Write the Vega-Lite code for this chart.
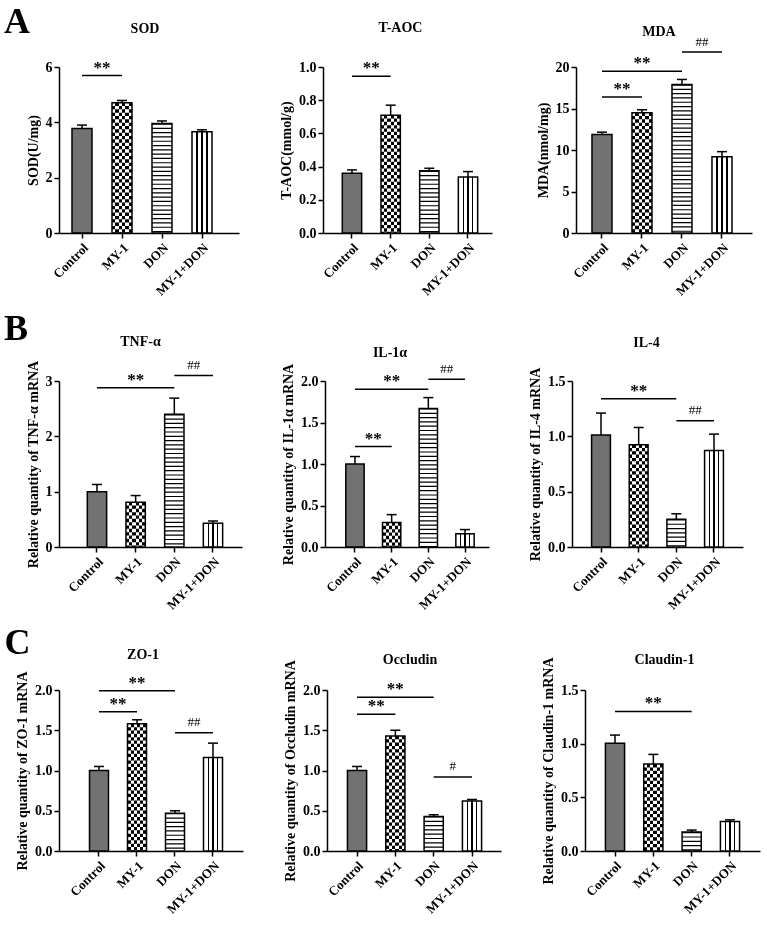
{
"$schema": "https://vega.github.io/schema/vega-lite/v6.json",
"background": "white",
"padding": {"left": 4, "top": 4, "right": 5, "bottom": 5},
"spacing": 12,
"vconcat": [
{"hconcat": [
 {"width": 180, "height": 166, "title": {"text": "SOD", "offset": 23, "dx": -4, "frame": "group"},
  "data": {"values": [{"group":"Control","value":3.78,"upper":3.9},{"group":"MY-1","value":4.71,"upper":4.79},{"group":"DON","value":3.96,"upper":4.05},{"group":"MY-1+DON","value":3.66,"upper":3.73}]},
  "encoding": {"x": {"field":"group","type":"nominal","scale":{"domain":["Control","MY-1","DON","MY-1+DON"],"paddingInner":0.5,"paddingOuter":0.5,"align":0.325},"axis":{"title":null}},
               "y": {"field":"value","type":"quantitative","scale":{"domain":[0,6],"nice":false},"axis":{"title":"SOD(U/mg)","values":[0,2,4,6]}}},
  "layer": [
   {"mark":{"type":"bar"},"encoding":{"fill":{"condition":{"test":"datum.group==='Control'","value":"#727272"},"value":"white"}}},
   {"transform":[{"filter":"datum.group==='MY-1+DON'"}],"mark":{"type":"bar","fill":{"gradient":"linear","x1":0,"y1":0,"x2":1,"y2":0,"stops":[{"offset":0,"color":"white"},{"offset":0.22,"color":"white"},{"offset":0.22,"color":"black"},{"offset":0.28,"color":"black"},{"offset":0.28,"color":"white"},{"offset":0.47,"color":"white"},{"offset":0.47,"color":"black"},{"offset":0.53,"color":"black"},{"offset":0.53,"color":"white"},{"offset":0.72,"color":"white"},{"offset":0.72,"color":"black"},{"offset":0.78,"color":"black"},{"offset":0.78,"color":"white"},{"offset":1,"color":"white"}]}}},
   {"transform":[{"filter":"datum.group==='DON'||datum.group==='MY-1'"}],"mark":{"type":"rule","strokeWidth":20,"strokeCap":"butt","color":"black"},"encoding":{"y2":{"datum":0},"strokeDash":{"field":"group","type":"nominal","scale":{"domain":["DON","MY-1"],"range":[[1.2,3.1],[3.33,3.33]]},"legend":null}}},
   {"transform":[{"filter":"datum.group==='MY-1'"}],"mark":{"type":"bar","blend":"difference","fill":{"gradient":"linear","x1":0,"y1":0,"x2":1,"y2":0,"stops":[{"offset":0,"color":"white"},{"offset":0.1667,"color":"white"},{"offset":0.1667,"color":"rgba(255,255,255,0)"},{"offset":0.3333,"color":"rgba(255,255,255,0)"},{"offset":0.3333,"color":"white"},{"offset":0.5,"color":"white"},{"offset":0.5,"color":"rgba(255,255,255,0)"},{"offset":0.6667,"color":"rgba(255,255,255,0)"},{"offset":0.6667,"color":"white"},{"offset":0.8333,"color":"white"},{"offset":0.8333,"color":"rgba(255,255,255,0)"},{"offset":1,"color":"rgba(255,255,255,0)"}]}}},
   {"mark":{"type":"bar","fillOpacity":0,"stroke":"black","strokeWidth":1.5}},
   {"mark":{"type":"rule","strokeWidth":1.5,"color":"black"},"encoding":{"y2":{"field":"upper"}}},
   {"mark":{"type":"tick","size":10,"thickness":1.5,"opacity":1,"color":"black"},"encoding":{"y":{"field":"upper","type":"quantitative"}}},
   {"data":{"values":[{"from":"Control","to":"MY-1","level":5.69,"label":"**"}]},"layer":[
     {"mark":{"type":"rule","strokeWidth":1.5,"color":"black"},"encoding":{"x":{"field":"from","type":"nominal"},"x2":{"field":"to"},"y":{"field":"level","type":"quantitative"}}},
     {"transform":[{"filter":"datum.from==='Control'&&datum.to==='MY-1'"}],"mark":{"type":"text","fontSize":17,"fontWeight":"bold","baseline":"alphabetic","dy":-3},"encoding":{"x":{"field":"from","type":"nominal","bandPosition":1.5},"y":{"field":"level","type":"quantitative"},"text":{"field":"label"}}},
     {"transform":[{"filter":"datum.to==='DON'"}],"mark":{"type":"text","fontSize":17,"fontWeight":"bold","baseline":"alphabetic","dy":-3},"encoding":{"x":{"field":"from","type":"nominal","bandPosition":2.5},"y":{"field":"level","type":"quantitative"},"text":{"field":"label"}}},
     {"transform":[{"filter":"datum.from==='DON'"}],"mark":{"type":"text","fontSize":13,"baseline":"alphabetic","dy":-6.5},"encoding":{"x":{"field":"from","type":"nominal","bandPosition":1.5},"y":{"field":"level","type":"quantitative"},"text":{"field":"label"}}}
   ]}
  ]},
 {"width": 169, "height": 166, "title": {"text": "T-AOC", "offset": 24, "dx": -7, "frame": "group"},
  "data": {"values": [{"group":"Control","value":0.36,"upper":0.38},{"group":"MY-1","value":0.71,"upper":0.77},{"group":"DON","value":0.375,"upper":0.39},{"group":"MY-1+DON","value":0.337,"upper":0.37}]},
  "encoding": {"x": {"field":"group","type":"nominal","scale":{"domain":["Control","MY-1","DON","MY-1+DON"],"paddingInner":0.5,"paddingOuter":0.435,"align":0.574},"axis":{"title":null}},
               "y": {"field":"value","type":"quantitative","scale":{"domain":[0,1],"nice":false},"axis":{"title":"T-AOC(mmol/g)","values":[0,0.2,0.4,0.6,0.8,1],"format":".1f"}}},
  "layer": [
   {"mark":{"type":"bar"},"encoding":{"fill":{"condition":{"test":"datum.group==='Control'","value":"#727272"},"value":"white"}}},
   {"transform":[{"filter":"datum.group==='MY-1+DON'"}],"mark":{"type":"bar","fill":{"gradient":"linear","x1":0,"y1":0,"x2":1,"y2":0,"stops":[{"offset":0,"color":"white"},{"offset":0.22,"color":"white"},{"offset":0.22,"color":"black"},{"offset":0.28,"color":"black"},{"offset":0.28,"color":"white"},{"offset":0.47,"color":"white"},{"offset":0.47,"color":"black"},{"offset":0.53,"color":"black"},{"offset":0.53,"color":"white"},{"offset":0.72,"color":"white"},{"offset":0.72,"color":"black"},{"offset":0.78,"color":"black"},{"offset":0.78,"color":"white"},{"offset":1,"color":"white"}]}}},
   {"transform":[{"filter":"datum.group==='DON'||datum.group==='MY-1'"}],"mark":{"type":"rule","strokeWidth":19.3,"strokeCap":"butt","color":"black"},"encoding":{"y2":{"datum":0},"strokeDash":{"field":"group","type":"nominal","scale":{"domain":["DON","MY-1"],"range":[[1.2,3.1],[3.22,3.22]]},"legend":null}}},
   {"transform":[{"filter":"datum.group==='MY-1'"}],"mark":{"type":"bar","blend":"difference","fill":{"gradient":"linear","x1":0,"y1":0,"x2":1,"y2":0,"stops":[{"offset":0,"color":"white"},{"offset":0.1667,"color":"white"},{"offset":0.1667,"color":"rgba(255,255,255,0)"},{"offset":0.3333,"color":"rgba(255,255,255,0)"},{"offset":0.3333,"color":"white"},{"offset":0.5,"color":"white"},{"offset":0.5,"color":"rgba(255,255,255,0)"},{"offset":0.6667,"color":"rgba(255,255,255,0)"},{"offset":0.6667,"color":"white"},{"offset":0.8333,"color":"white"},{"offset":0.8333,"color":"rgba(255,255,255,0)"},{"offset":1,"color":"rgba(255,255,255,0)"}]}}},
   {"mark":{"type":"bar","fillOpacity":0,"stroke":"black","strokeWidth":1.5}},
   {"mark":{"type":"rule","strokeWidth":1.5,"color":"black"},"encoding":{"y2":{"field":"upper"}}},
   {"mark":{"type":"tick","size":10,"thickness":1.5,"opacity":1,"color":"black"},"encoding":{"y":{"field":"upper","type":"quantitative"}}},
   {"data":{"values":[{"from":"Control","to":"MY-1","level":0.945,"label":"**"}]},"layer":[
     {"mark":{"type":"rule","strokeWidth":1.5,"color":"black"},"encoding":{"x":{"field":"from","type":"nominal"},"x2":{"field":"to"},"y":{"field":"level","type":"quantitative"}}},
     {"transform":[{"filter":"datum.from==='Control'&&datum.to==='MY-1'"}],"mark":{"type":"text","fontSize":17,"fontWeight":"bold","baseline":"alphabetic","dy":-3},"encoding":{"x":{"field":"from","type":"nominal","bandPosition":1.5},"y":{"field":"level","type":"quantitative"},"text":{"field":"label"}}},
     {"transform":[{"filter":"datum.to==='DON'"}],"mark":{"type":"text","fontSize":17,"fontWeight":"bold","baseline":"alphabetic","dy":-3},"encoding":{"x":{"field":"from","type":"nominal","bandPosition":2.5},"y":{"field":"level","type":"quantitative"},"text":{"field":"label"}}},
     {"transform":[{"filter":"datum.from==='DON'"}],"mark":{"type":"text","fontSize":13,"baseline":"alphabetic","dy":-6.5},"encoding":{"x":{"field":"from","type":"nominal","bandPosition":1.5},"y":{"field":"level","type":"quantitative"},"text":{"field":"label"}}}
   ]}
  ]},
 {"width": 176, "height": 166, "title": {"text": "MDA", "offset": -3, "dx": -5, "frame": "group"},
  "data": {"values": [{"group":"Control","value":11.86,"upper":12.15},{"group":"MY-1","value":14.5,"upper":14.85},{"group":"DON","value":17.9,"upper":18.5},{"group":"MY-1+DON","value":9.2,"upper":9.8}]},
  "encoding": {"x": {"field":"group","type":"nominal","scale":{"domain":["Control","MY-1","DON","MY-1+DON"],"paddingInner":0.5,"paddingOuter":0.45,"align":0.444},"axis":{"title":null}},
               "y": {"field":"value","type":"quantitative","scale":{"domain":[0,20],"nice":false},"axis":{"title":"MDA(nmol/mg)","values":[0,5,10,15,20]}}},
  "layer": [
   {"mark":{"type":"bar"},"encoding":{"fill":{"condition":{"test":"datum.group==='Control'","value":"#727272"},"value":"white"}}},
   {"transform":[{"filter":"datum.group==='MY-1+DON'"}],"mark":{"type":"bar","fill":{"gradient":"linear","x1":0,"y1":0,"x2":1,"y2":0,"stops":[{"offset":0,"color":"white"},{"offset":0.22,"color":"white"},{"offset":0.22,"color":"black"},{"offset":0.28,"color":"black"},{"offset":0.28,"color":"white"},{"offset":0.47,"color":"white"},{"offset":0.47,"color":"black"},{"offset":0.53,"color":"black"},{"offset":0.53,"color":"white"},{"offset":0.72,"color":"white"},{"offset":0.72,"color":"black"},{"offset":0.78,"color":"black"},{"offset":0.78,"color":"white"},{"offset":1,"color":"white"}]}}},
   {"transform":[{"filter":"datum.group==='DON'||datum.group==='MY-1'"}],"mark":{"type":"rule","strokeWidth":20,"strokeCap":"butt","color":"black"},"encoding":{"y2":{"datum":0},"strokeDash":{"field":"group","type":"nominal","scale":{"domain":["DON","MY-1"],"range":[[1.2,3.1],[3.33,3.33]]},"legend":null}}},
   {"transform":[{"filter":"datum.group==='MY-1'"}],"mark":{"type":"bar","blend":"difference","fill":{"gradient":"linear","x1":0,"y1":0,"x2":1,"y2":0,"stops":[{"offset":0,"color":"white"},{"offset":0.1667,"color":"white"},{"offset":0.1667,"color":"rgba(255,255,255,0)"},{"offset":0.3333,"color":"rgba(255,255,255,0)"},{"offset":0.3333,"color":"white"},{"offset":0.5,"color":"white"},{"offset":0.5,"color":"rgba(255,255,255,0)"},{"offset":0.6667,"color":"rgba(255,255,255,0)"},{"offset":0.6667,"color":"white"},{"offset":0.8333,"color":"white"},{"offset":0.8333,"color":"rgba(255,255,255,0)"},{"offset":1,"color":"rgba(255,255,255,0)"}]}}},
   {"mark":{"type":"bar","fillOpacity":0,"stroke":"black","strokeWidth":1.5}},
   {"mark":{"type":"rule","strokeWidth":1.5,"color":"black"},"encoding":{"y2":{"field":"upper"}}},
   {"mark":{"type":"tick","size":10,"thickness":1.5,"opacity":1,"color":"black"},"encoding":{"y":{"field":"upper","type":"quantitative"}}},
   {"data":{"values":[{"from":"Control","to":"MY-1","level":16.4,"label":"**"},{"from":"Control","to":"DON","level":19.5,"label":"**"},{"from":"DON","to":"MY-1+DON","level":21.8,"label":"##"}]},"layer":[
     {"mark":{"type":"rule","strokeWidth":1.5,"color":"black"},"encoding":{"x":{"field":"from","type":"nominal"},"x2":{"field":"to"},"y":{"field":"level","type":"quantitative"}}},
     {"transform":[{"filter":"datum.from==='Control'&&datum.to==='MY-1'"}],"mark":{"type":"text","fontSize":17,"fontWeight":"bold","baseline":"alphabetic","dy":-3},"encoding":{"x":{"field":"from","type":"nominal","bandPosition":1.5},"y":{"field":"level","type":"quantitative"},"text":{"field":"label"}}},
     {"transform":[{"filter":"datum.to==='DON'"}],"mark":{"type":"text","fontSize":17,"fontWeight":"bold","baseline":"alphabetic","dy":-3},"encoding":{"x":{"field":"from","type":"nominal","bandPosition":2.5},"y":{"field":"level","type":"quantitative"},"text":{"field":"label"}}},
     {"transform":[{"filter":"datum.from==='DON'"}],"mark":{"type":"text","fontSize":13,"baseline":"alphabetic","dy":-6.5},"encoding":{"x":{"field":"from","type":"nominal","bandPosition":1.5},"y":{"field":"level","type":"quantitative"},"text":{"field":"label"}}}
   ]}
  ]}
 ],
 "spacing": 84, "bounds": "flush",
 "title": {"text": "A", "anchor": "start", "frame": "bounds", "fontSize": 36, "offset": -20, "dx": -22}
},
{"hconcat": [
 {"width": 183, "height": 166, "title": {"text": "TNF-α", "offset": 10, "dx": -10, "frame": "group"},
  "data": {"values": [{"group":"Control","value":1.0,"upper":1.13},{"group":"MY-1","value":0.81,"upper":0.93},{"group":"DON","value":2.4,"upper":2.69},{"group":"MY-1+DON","value":0.43,"upper":0.47}]},
  "encoding": {"x": {"field":"group","type":"nominal","scale":{"domain":["Control","MY-1","DON","MY-1+DON"],"paddingInner":0.5,"paddingOuter":0.616,"align":0.594},"axis":{"title":null}},
               "y": {"field":"value","type":"quantitative","scale":{"domain":[0,3],"nice":false},"axis":{"title":"Relative quantity of TNF-α mRNA","values":[0,1,2,3]}}},
  "layer": [
   {"mark":{"type":"bar"},"encoding":{"fill":{"condition":{"test":"datum.group==='Control'","value":"#727272"},"value":"white"}}},
   {"transform":[{"filter":"datum.group==='MY-1+DON'"}],"mark":{"type":"bar","fill":{"gradient":"linear","x1":0,"y1":0,"x2":1,"y2":0,"stops":[{"offset":0,"color":"white"},{"offset":0.22,"color":"white"},{"offset":0.22,"color":"black"},{"offset":0.28,"color":"black"},{"offset":0.28,"color":"white"},{"offset":0.47,"color":"white"},{"offset":0.47,"color":"black"},{"offset":0.53,"color":"black"},{"offset":0.53,"color":"white"},{"offset":0.72,"color":"white"},{"offset":0.72,"color":"black"},{"offset":0.78,"color":"black"},{"offset":0.78,"color":"white"},{"offset":1,"color":"white"}]}}},
   {"transform":[{"filter":"datum.group==='DON'||datum.group==='MY-1'"}],"mark":{"type":"rule","strokeWidth":19.3,"strokeCap":"butt","color":"black"},"encoding":{"y2":{"datum":0},"strokeDash":{"field":"group","type":"nominal","scale":{"domain":["DON","MY-1"],"range":[[1.2,3.1],[3.22,3.22]]},"legend":null}}},
   {"transform":[{"filter":"datum.group==='MY-1'"}],"mark":{"type":"bar","blend":"difference","fill":{"gradient":"linear","x1":0,"y1":0,"x2":1,"y2":0,"stops":[{"offset":0,"color":"white"},{"offset":0.1667,"color":"white"},{"offset":0.1667,"color":"rgba(255,255,255,0)"},{"offset":0.3333,"color":"rgba(255,255,255,0)"},{"offset":0.3333,"color":"white"},{"offset":0.5,"color":"white"},{"offset":0.5,"color":"rgba(255,255,255,0)"},{"offset":0.6667,"color":"rgba(255,255,255,0)"},{"offset":0.6667,"color":"white"},{"offset":0.8333,"color":"white"},{"offset":0.8333,"color":"rgba(255,255,255,0)"},{"offset":1,"color":"rgba(255,255,255,0)"}]}}},
   {"mark":{"type":"bar","fillOpacity":0,"stroke":"black","strokeWidth":1.5}},
   {"mark":{"type":"rule","strokeWidth":1.5,"color":"black"},"encoding":{"y2":{"field":"upper"}}},
   {"mark":{"type":"tick","size":10,"thickness":1.5,"opacity":1,"color":"black"},"encoding":{"y":{"field":"upper","type":"quantitative"}}},
   {"data":{"values":[{"from":"Control","to":"DON","level":2.88,"label":"**"},{"from":"DON","to":"MY-1+DON","level":3.1,"label":"##"}]},"layer":[
     {"mark":{"type":"rule","strokeWidth":1.5,"color":"black"},"encoding":{"x":{"field":"from","type":"nominal"},"x2":{"field":"to"},"y":{"field":"level","type":"quantitative"}}},
     {"transform":[{"filter":"datum.from==='Control'&&datum.to==='MY-1'"}],"mark":{"type":"text","fontSize":17,"fontWeight":"bold","baseline":"alphabetic","dy":-3},"encoding":{"x":{"field":"from","type":"nominal","bandPosition":1.5},"y":{"field":"level","type":"quantitative"},"text":{"field":"label"}}},
     {"transform":[{"filter":"datum.to==='DON'"}],"mark":{"type":"text","fontSize":17,"fontWeight":"bold","baseline":"alphabetic","dy":-3},"encoding":{"x":{"field":"from","type":"nominal","bandPosition":2.5},"y":{"field":"level","type":"quantitative"},"text":{"field":"label"}}},
     {"transform":[{"filter":"datum.from==='DON'"}],"mark":{"type":"text","fontSize":13,"baseline":"alphabetic","dy":-6.5},"encoding":{"x":{"field":"from","type":"nominal","bandPosition":1.5},"y":{"field":"level","type":"quantitative"},"text":{"field":"label"}}}
   ]}
  ]},
 {"width": 164, "height": 166, "title": {"text": "IL-1α", "offset": 3, "dx": -17, "frame": "group"},
  "data": {"values": [{"group":"Control","value":1.0,"upper":1.09},{"group":"MY-1","value":0.295,"upper":0.39},{"group":"DON","value":1.67,"upper":1.8},{"group":"MY-1+DON","value":0.16,"upper":0.21}]},
  "encoding": {"x": {"field":"group","type":"nominal","scale":{"domain":["Control","MY-1","DON","MY-1+DON"],"paddingInner":0.5,"paddingOuter":0.486,"align":0.584},"axis":{"title":null}},
               "y": {"field":"value","type":"quantitative","scale":{"domain":[0,2],"nice":false},"axis":{"title":"Relative quantity of IL-1α mRNA","values":[0,0.5,1,1.5,2],"format":".1f"}}},
  "layer": [
   {"mark":{"type":"bar"},"encoding":{"fill":{"condition":{"test":"datum.group==='Control'","value":"#727272"},"value":"white"}}},
   {"transform":[{"filter":"datum.group==='MY-1+DON'"}],"mark":{"type":"bar","fill":{"gradient":"linear","x1":0,"y1":0,"x2":1,"y2":0,"stops":[{"offset":0,"color":"white"},{"offset":0.22,"color":"white"},{"offset":0.22,"color":"black"},{"offset":0.28,"color":"black"},{"offset":0.28,"color":"white"},{"offset":0.47,"color":"white"},{"offset":0.47,"color":"black"},{"offset":0.53,"color":"black"},{"offset":0.53,"color":"white"},{"offset":0.72,"color":"white"},{"offset":0.72,"color":"black"},{"offset":0.78,"color":"black"},{"offset":0.78,"color":"white"},{"offset":1,"color":"white"}]}}},
   {"transform":[{"filter":"datum.group==='DON'||datum.group==='MY-1'"}],"mark":{"type":"rule","strokeWidth":18.3,"strokeCap":"butt","color":"black"},"encoding":{"y2":{"datum":0},"strokeDash":{"field":"group","type":"nominal","scale":{"domain":["DON","MY-1"],"range":[[1.2,3.1],[3.05,3.05]]},"legend":null}}},
   {"transform":[{"filter":"datum.group==='MY-1'"}],"mark":{"type":"bar","blend":"difference","fill":{"gradient":"linear","x1":0,"y1":0,"x2":1,"y2":0,"stops":[{"offset":0,"color":"white"},{"offset":0.1667,"color":"white"},{"offset":0.1667,"color":"rgba(255,255,255,0)"},{"offset":0.3333,"color":"rgba(255,255,255,0)"},{"offset":0.3333,"color":"white"},{"offset":0.5,"color":"white"},{"offset":0.5,"color":"rgba(255,255,255,0)"},{"offset":0.6667,"color":"rgba(255,255,255,0)"},{"offset":0.6667,"color":"white"},{"offset":0.8333,"color":"white"},{"offset":0.8333,"color":"rgba(255,255,255,0)"},{"offset":1,"color":"rgba(255,255,255,0)"}]}}},
   {"mark":{"type":"bar","fillOpacity":0,"stroke":"black","strokeWidth":1.5}},
   {"mark":{"type":"rule","strokeWidth":1.5,"color":"black"},"encoding":{"y2":{"field":"upper"}}},
   {"mark":{"type":"tick","size":10,"thickness":1.5,"opacity":1,"color":"black"},"encoding":{"y":{"field":"upper","type":"quantitative"}}},
   {"data":{"values":[{"from":"Control","to":"MY-1","level":1.21,"label":"**"},{"from":"Control","to":"DON","level":1.9,"label":"**"},{"from":"DON","to":"MY-1+DON","level":2.02,"label":"##"}]},"layer":[
     {"mark":{"type":"rule","strokeWidth":1.5,"color":"black"},"encoding":{"x":{"field":"from","type":"nominal"},"x2":{"field":"to"},"y":{"field":"level","type":"quantitative"}}},
     {"transform":[{"filter":"datum.from==='Control'&&datum.to==='MY-1'"}],"mark":{"type":"text","fontSize":17,"fontWeight":"bold","baseline":"alphabetic","dy":-3},"encoding":{"x":{"field":"from","type":"nominal","bandPosition":1.5},"y":{"field":"level","type":"quantitative"},"text":{"field":"label"}}},
     {"transform":[{"filter":"datum.to==='DON'"}],"mark":{"type":"text","fontSize":17,"fontWeight":"bold","baseline":"alphabetic","dy":-3},"encoding":{"x":{"field":"from","type":"nominal","bandPosition":2.5},"y":{"field":"level","type":"quantitative"},"text":{"field":"label"}}},
     {"transform":[{"filter":"datum.from==='DON'"}],"mark":{"type":"text","fontSize":13,"baseline":"alphabetic","dy":-6.5},"encoding":{"x":{"field":"from","type":"nominal","bandPosition":1.5},"y":{"field":"level","type":"quantitative"},"text":{"field":"label"}}}
   ]}
  ]},
 {"width": 171, "height": 166, "title": {"text": "IL-4", "offset": 17, "dx": -11, "frame": "group"},
  "data": {"values": [{"group":"Control","value":1.012,"upper":1.21},{"group":"MY-1","value":0.925,"upper":1.08},{"group":"DON","value":0.25,"upper":0.3},{"group":"MY-1+DON","value":0.873,"upper":1.02}]},
  "encoding": {"x": {"field":"group","type":"nominal","scale":{"domain":["Control","MY-1","DON","MY-1+DON"],"paddingInner":0.5,"paddingOuter":0.52,"align":0.5},"axis":{"title":null}},
               "y": {"field":"value","type":"quantitative","scale":{"domain":[0,1.5],"nice":false},"axis":{"title":"Relative quantity of IL-4 mRNA","values":[0,0.5,1,1.5],"format":".1f"}}},
  "layer": [
   {"mark":{"type":"bar"},"encoding":{"fill":{"condition":{"test":"datum.group==='Control'","value":"#727272"},"value":"white"}}},
   {"transform":[{"filter":"datum.group==='MY-1+DON'"}],"mark":{"type":"bar","fill":{"gradient":"linear","x1":0,"y1":0,"x2":1,"y2":0,"stops":[{"offset":0,"color":"white"},{"offset":0.22,"color":"white"},{"offset":0.22,"color":"black"},{"offset":0.28,"color":"black"},{"offset":0.28,"color":"white"},{"offset":0.47,"color":"white"},{"offset":0.47,"color":"black"},{"offset":0.53,"color":"black"},{"offset":0.53,"color":"white"},{"offset":0.72,"color":"white"},{"offset":0.72,"color":"black"},{"offset":0.78,"color":"black"},{"offset":0.78,"color":"white"},{"offset":1,"color":"white"}]}}},
   {"transform":[{"filter":"datum.group==='DON'||datum.group==='MY-1'"}],"mark":{"type":"rule","strokeWidth":18.8,"strokeCap":"butt","color":"black"},"encoding":{"y2":{"datum":0},"strokeDash":{"field":"group","type":"nominal","scale":{"domain":["DON","MY-1"],"range":[[1.2,3.1],[3.13,3.13]]},"legend":null}}},
   {"transform":[{"filter":"datum.group==='MY-1'"}],"mark":{"type":"bar","blend":"difference","fill":{"gradient":"linear","x1":0,"y1":0,"x2":1,"y2":0,"stops":[{"offset":0,"color":"white"},{"offset":0.1667,"color":"white"},{"offset":0.1667,"color":"rgba(255,255,255,0)"},{"offset":0.3333,"color":"rgba(255,255,255,0)"},{"offset":0.3333,"color":"white"},{"offset":0.5,"color":"white"},{"offset":0.5,"color":"rgba(255,255,255,0)"},{"offset":0.6667,"color":"rgba(255,255,255,0)"},{"offset":0.6667,"color":"white"},{"offset":0.8333,"color":"white"},{"offset":0.8333,"color":"rgba(255,255,255,0)"},{"offset":1,"color":"rgba(255,255,255,0)"}]}}},
   {"mark":{"type":"bar","fillOpacity":0,"stroke":"black","strokeWidth":1.5}},
   {"mark":{"type":"rule","strokeWidth":1.5,"color":"black"},"encoding":{"y2":{"field":"upper"}}},
   {"mark":{"type":"tick","size":10,"thickness":1.5,"opacity":1,"color":"black"},"encoding":{"y":{"field":"upper","type":"quantitative"}}},
   {"data":{"values":[{"from":"Control","to":"DON","level":1.34,"label":"**"},{"from":"DON","to":"MY-1+DON","level":1.14,"label":"##"}]},"layer":[
     {"mark":{"type":"rule","strokeWidth":1.5,"color":"black"},"encoding":{"x":{"field":"from","type":"nominal"},"x2":{"field":"to"},"y":{"field":"level","type":"quantitative"}}},
     {"transform":[{"filter":"datum.from==='Control'&&datum.to==='MY-1'"}],"mark":{"type":"text","fontSize":17,"fontWeight":"bold","baseline":"alphabetic","dy":-3},"encoding":{"x":{"field":"from","type":"nominal","bandPosition":1.5},"y":{"field":"level","type":"quantitative"},"text":{"field":"label"}}},
     {"transform":[{"filter":"datum.to==='DON'"}],"mark":{"type":"text","fontSize":17,"fontWeight":"bold","baseline":"alphabetic","dy":-3},"encoding":{"x":{"field":"from","type":"nominal","bandPosition":2.5},"y":{"field":"level","type":"quantitative"},"text":{"field":"label"}}},
     {"transform":[{"filter":"datum.from==='DON'"}],"mark":{"type":"text","fontSize":13,"baseline":"alphabetic","dy":-6.5},"encoding":{"x":{"field":"from","type":"nominal","bandPosition":1.5},"y":{"field":"level","type":"quantitative"},"text":{"field":"label"}}}
   ]}
  ]}
 ],
 "spacing": 83, "bounds": "flush",
 "title": {"text": "B", "anchor": "start", "frame": "bounds", "fontSize": 36, "offset": -13, "dx": -22}
},
{"hconcat": [
 {"width": 184, "height": 161, "title": {"text": "ZO-1", "offset": 9, "dx": -8, "frame": "group"},
  "data": {"values": [{"group":"Control","value":1.0,"upper":1.05},{"group":"MY-1","value":1.58,"upper":1.63},{"group":"DON","value":0.47,"upper":0.5},{"group":"MY-1+DON","value":1.16,"upper":1.34}]},
  "encoding": {"x": {"field":"group","type":"nominal","scale":{"domain":["Control","MY-1","DON","MY-1+DON"],"paddingInner":0.5,"paddingOuter":0.671,"align":0.598},"axis":{"title":null}},
               "y": {"field":"value","type":"quantitative","scale":{"domain":[0,2],"nice":false},"axis":{"title":"Relative quantity of ZO-1 mRNA","values":[0,0.5,1,1.5,2],"format":".1f"}}},
  "layer": [
   {"mark":{"type":"bar"},"encoding":{"fill":{"condition":{"test":"datum.group==='Control'","value":"#727272"},"value":"white"}}},
   {"transform":[{"filter":"datum.group==='MY-1+DON'"}],"mark":{"type":"bar","fill":{"gradient":"linear","x1":0,"y1":0,"x2":1,"y2":0,"stops":[{"offset":0,"color":"white"},{"offset":0.22,"color":"white"},{"offset":0.22,"color":"black"},{"offset":0.28,"color":"black"},{"offset":0.28,"color":"white"},{"offset":0.47,"color":"white"},{"offset":0.47,"color":"black"},{"offset":0.53,"color":"black"},{"offset":0.53,"color":"white"},{"offset":0.72,"color":"white"},{"offset":0.72,"color":"black"},{"offset":0.78,"color":"black"},{"offset":0.78,"color":"white"},{"offset":1,"color":"white"}]}}},
   {"transform":[{"filter":"datum.group==='DON'||datum.group==='MY-1'"}],"mark":{"type":"rule","strokeWidth":19,"strokeCap":"butt","color":"black"},"encoding":{"y2":{"datum":0},"strokeDash":{"field":"group","type":"nominal","scale":{"domain":["DON","MY-1"],"range":[[1.2,3.1],[3.17,3.17]]},"legend":null}}},
   {"transform":[{"filter":"datum.group==='MY-1'"}],"mark":{"type":"bar","blend":"difference","fill":{"gradient":"linear","x1":0,"y1":0,"x2":1,"y2":0,"stops":[{"offset":0,"color":"white"},{"offset":0.1667,"color":"white"},{"offset":0.1667,"color":"rgba(255,255,255,0)"},{"offset":0.3333,"color":"rgba(255,255,255,0)"},{"offset":0.3333,"color":"white"},{"offset":0.5,"color":"white"},{"offset":0.5,"color":"rgba(255,255,255,0)"},{"offset":0.6667,"color":"rgba(255,255,255,0)"},{"offset":0.6667,"color":"white"},{"offset":0.8333,"color":"white"},{"offset":0.8333,"color":"rgba(255,255,255,0)"},{"offset":1,"color":"rgba(255,255,255,0)"}]}}},
   {"mark":{"type":"bar","fillOpacity":0,"stroke":"black","strokeWidth":1.5}},
   {"mark":{"type":"rule","strokeWidth":1.5,"color":"black"},"encoding":{"y2":{"field":"upper"}}},
   {"mark":{"type":"tick","size":10,"thickness":1.5,"opacity":1,"color":"black"},"encoding":{"y":{"field":"upper","type":"quantitative"}}},
   {"data":{"values":[{"from":"Control","to":"MY-1","level":1.73,"label":"**"},{"from":"Control","to":"DON","level":1.99,"label":"**"},{"from":"DON","to":"MY-1+DON","level":1.47,"label":"##"}]},"layer":[
     {"mark":{"type":"rule","strokeWidth":1.5,"color":"black"},"encoding":{"x":{"field":"from","type":"nominal"},"x2":{"field":"to"},"y":{"field":"level","type":"quantitative"}}},
     {"transform":[{"filter":"datum.from==='Control'&&datum.to==='MY-1'"}],"mark":{"type":"text","fontSize":17,"fontWeight":"bold","baseline":"alphabetic","dy":-3},"encoding":{"x":{"field":"from","type":"nominal","bandPosition":1.5},"y":{"field":"level","type":"quantitative"},"text":{"field":"label"}}},
     {"transform":[{"filter":"datum.to==='DON'"}],"mark":{"type":"text","fontSize":17,"fontWeight":"bold","baseline":"alphabetic","dy":-3},"encoding":{"x":{"field":"from","type":"nominal","bandPosition":2.5},"y":{"field":"level","type":"quantitative"},"text":{"field":"label"}}},
     {"transform":[{"filter":"datum.from==='DON'"}],"mark":{"type":"text","fontSize":13,"baseline":"alphabetic","dy":-6.5},"encoding":{"x":{"field":"from","type":"nominal","bandPosition":1.5},"y":{"field":"level","type":"quantitative"},"text":{"field":"label"}}}
   ]}
  ]},
 {"width": 174, "height": 161, "title": {"text": "Occludin", "offset": -7, "dx": -4, "frame": "group"},
  "data": {"values": [{"group":"Control","value":1.0,"upper":1.05},{"group":"MY-1","value":1.43,"upper":1.5},{"group":"DON","value":0.43,"upper":0.45},{"group":"MY-1+DON","value":0.62,"upper":0.64}]},
  "encoding": {"x": {"field":"group","type":"nominal","scale":{"domain":["Control","MY-1","DON","MY-1+DON"],"paddingInner":0.5,"paddingOuter":0.52,"align":0.513},"axis":{"title":null}},
               "y": {"field":"value","type":"quantitative","scale":{"domain":[0,2],"nice":false},"axis":{"title":"Relative quantity of Occludin mRNA","values":[0,0.5,1,1.5,2],"format":".1f"}}},
  "layer": [
   {"mark":{"type":"bar"},"encoding":{"fill":{"condition":{"test":"datum.group==='Control'","value":"#727272"},"value":"white"}}},
   {"transform":[{"filter":"datum.group==='MY-1+DON'"}],"mark":{"type":"bar","fill":{"gradient":"linear","x1":0,"y1":0,"x2":1,"y2":0,"stops":[{"offset":0,"color":"white"},{"offset":0.22,"color":"white"},{"offset":0.22,"color":"black"},{"offset":0.28,"color":"black"},{"offset":0.28,"color":"white"},{"offset":0.47,"color":"white"},{"offset":0.47,"color":"black"},{"offset":0.53,"color":"black"},{"offset":0.53,"color":"white"},{"offset":0.72,"color":"white"},{"offset":0.72,"color":"black"},{"offset":0.78,"color":"black"},{"offset":0.78,"color":"white"},{"offset":1,"color":"white"}]}}},
   {"transform":[{"filter":"datum.group==='DON'||datum.group==='MY-1'"}],"mark":{"type":"rule","strokeWidth":19.2,"strokeCap":"butt","color":"black"},"encoding":{"y2":{"datum":0},"strokeDash":{"field":"group","type":"nominal","scale":{"domain":["DON","MY-1"],"range":[[1.2,3.1],[3.2,3.2]]},"legend":null}}},
   {"transform":[{"filter":"datum.group==='MY-1'"}],"mark":{"type":"bar","blend":"difference","fill":{"gradient":"linear","x1":0,"y1":0,"x2":1,"y2":0,"stops":[{"offset":0,"color":"white"},{"offset":0.1667,"color":"white"},{"offset":0.1667,"color":"rgba(255,255,255,0)"},{"offset":0.3333,"color":"rgba(255,255,255,0)"},{"offset":0.3333,"color":"white"},{"offset":0.5,"color":"white"},{"offset":0.5,"color":"rgba(255,255,255,0)"},{"offset":0.6667,"color":"rgba(255,255,255,0)"},{"offset":0.6667,"color":"white"},{"offset":0.8333,"color":"white"},{"offset":0.8333,"color":"rgba(255,255,255,0)"},{"offset":1,"color":"rgba(255,255,255,0)"}]}}},
   {"mark":{"type":"bar","fillOpacity":0,"stroke":"black","strokeWidth":1.5}},
   {"mark":{"type":"rule","strokeWidth":1.5,"color":"black"},"encoding":{"y2":{"field":"upper"}}},
   {"mark":{"type":"tick","size":10,"thickness":1.5,"opacity":1,"color":"black"},"encoding":{"y":{"field":"upper","type":"quantitative"}}},
   {"data":{"values":[{"from":"Control","to":"MY-1","level":1.7,"label":"**"},{"from":"Control","to":"DON","level":1.91,"label":"**"},{"from":"DON","to":"MY-1+DON","level":0.92,"label":"#"}]},"layer":[
     {"mark":{"type":"rule","strokeWidth":1.5,"color":"black"},"encoding":{"x":{"field":"from","type":"nominal"},"x2":{"field":"to"},"y":{"field":"level","type":"quantitative"}}},
     {"transform":[{"filter":"datum.from==='Control'&&datum.to==='MY-1'"}],"mark":{"type":"text","fontSize":17,"fontWeight":"bold","baseline":"alphabetic","dy":-3},"encoding":{"x":{"field":"from","type":"nominal","bandPosition":1.5},"y":{"field":"level","type":"quantitative"},"text":{"field":"label"}}},
     {"transform":[{"filter":"datum.to==='DON'"}],"mark":{"type":"text","fontSize":17,"fontWeight":"bold","baseline":"alphabetic","dy":-3},"encoding":{"x":{"field":"from","type":"nominal","bandPosition":2.5},"y":{"field":"level","type":"quantitative"},"text":{"field":"label"}}},
     {"transform":[{"filter":"datum.from==='DON'"}],"mark":{"type":"text","fontSize":13,"baseline":"alphabetic","dy":-6.5},"encoding":{"x":{"field":"from","type":"nominal","bandPosition":1.5},"y":{"field":"level","type":"quantitative"},"text":{"field":"label"}}}
   ]}
  ]},
 {"width": 175, "height": 161, "title": {"text": "Claudin-1", "offset": -10, "dx": -8, "frame": "group"},
  "data": {"values": [{"group":"Control","value":1.003,"upper":1.08},{"group":"MY-1","value":0.81,"upper":0.9},{"group":"DON","value":0.176,"upper":0.195},{"group":"MY-1+DON","value":0.275,"upper":0.29}]},
  "encoding": {"x": {"field":"group","type":"nominal","scale":{"domain":["Control","MY-1","DON","MY-1+DON"],"paddingInner":0.5,"paddingOuter":0.533,"align":0.5},"axis":{"title":null}},
               "y": {"field":"value","type":"quantitative","scale":{"domain":[0,1.5],"nice":false},"axis":{"title":"Relative quantity of Claudin-1 mRNA","values":[0,0.5,1,1.5],"format":".1f"}}},
  "layer": [
   {"mark":{"type":"bar"},"encoding":{"fill":{"condition":{"test":"datum.group==='Control'","value":"#727272"},"value":"white"}}},
   {"transform":[{"filter":"datum.group==='MY-1+DON'"}],"mark":{"type":"bar","fill":{"gradient":"linear","x1":0,"y1":0,"x2":1,"y2":0,"stops":[{"offset":0,"color":"white"},{"offset":0.22,"color":"white"},{"offset":0.22,"color":"black"},{"offset":0.28,"color":"black"},{"offset":0.28,"color":"white"},{"offset":0.47,"color":"white"},{"offset":0.47,"color":"black"},{"offset":0.53,"color":"black"},{"offset":0.53,"color":"white"},{"offset":0.72,"color":"white"},{"offset":0.72,"color":"black"},{"offset":0.78,"color":"black"},{"offset":0.78,"color":"white"},{"offset":1,"color":"white"}]}}},
   {"transform":[{"filter":"datum.group==='DON'||datum.group==='MY-1'"}],"mark":{"type":"rule","strokeWidth":19.2,"strokeCap":"butt","color":"black"},"encoding":{"y2":{"datum":0},"strokeDash":{"field":"group","type":"nominal","scale":{"domain":["DON","MY-1"],"range":[[1.2,3.1],[3.2,3.2]]},"legend":null}}},
   {"transform":[{"filter":"datum.group==='MY-1'"}],"mark":{"type":"bar","blend":"difference","fill":{"gradient":"linear","x1":0,"y1":0,"x2":1,"y2":0,"stops":[{"offset":0,"color":"white"},{"offset":0.1667,"color":"white"},{"offset":0.1667,"color":"rgba(255,255,255,0)"},{"offset":0.3333,"color":"rgba(255,255,255,0)"},{"offset":0.3333,"color":"white"},{"offset":0.5,"color":"white"},{"offset":0.5,"color":"rgba(255,255,255,0)"},{"offset":0.6667,"color":"rgba(255,255,255,0)"},{"offset":0.6667,"color":"white"},{"offset":0.8333,"color":"white"},{"offset":0.8333,"color":"rgba(255,255,255,0)"},{"offset":1,"color":"rgba(255,255,255,0)"}]}}},
   {"mark":{"type":"bar","fillOpacity":0,"stroke":"black","strokeWidth":1.5}},
   {"mark":{"type":"rule","strokeWidth":1.5,"color":"black"},"encoding":{"y2":{"field":"upper"}}},
   {"mark":{"type":"tick","size":10,"thickness":1.5,"opacity":1,"color":"black"},"encoding":{"y":{"field":"upper","type":"quantitative"}}},
   {"data":{"values":[{"from":"Control","to":"DON","level":1.3,"label":"**"}]},"layer":[
     {"mark":{"type":"rule","strokeWidth":1.5,"color":"black"},"encoding":{"x":{"field":"from","type":"nominal"},"x2":{"field":"to"},"y":{"field":"level","type":"quantitative"}}},
     {"transform":[{"filter":"datum.from==='Control'&&datum.to==='MY-1'"}],"mark":{"type":"text","fontSize":17,"fontWeight":"bold","baseline":"alphabetic","dy":-3},"encoding":{"x":{"field":"from","type":"nominal","bandPosition":1.5},"y":{"field":"level","type":"quantitative"},"text":{"field":"label"}}},
     {"transform":[{"filter":"datum.to==='DON'"}],"mark":{"type":"text","fontSize":17,"fontWeight":"bold","baseline":"alphabetic","dy":-3},"encoding":{"x":{"field":"from","type":"nominal","bandPosition":2.5},"y":{"field":"level","type":"quantitative"},"text":{"field":"label"}}},
     {"transform":[{"filter":"datum.from==='DON'"}],"mark":{"type":"text","fontSize":13,"baseline":"alphabetic","dy":-6.5},"encoding":{"x":{"field":"from","type":"nominal","bandPosition":1.5},"y":{"field":"level","type":"quantitative"},"text":{"field":"label"}}}
   ]}
  ]}
 ],
 "spacing": 84, "bounds": "flush",
 "title": {"text": "C", "anchor": "start", "frame": "bounds", "fontSize": 36, "offset": -14, "dx": -11}
}
],
"config": {
 "font": "Liberation Serif",
 "view": {"stroke": null},
 "axis": {"domainColor": "black", "domainWidth": 1.5, "tickColor": "black", "tickWidth": 1.5, "tickSize": 5, "labelFont": "Liberation Serif", "labelFontWeight": "bold", "labelFontSize": 14, "labelColor": "black", "titleFont": "Liberation Serif", "titleFontWeight": "bold", "titleFontSize": 14, "titleColor": "black", "grid": false, "labelPadding": 2, "titlePadding": 5},
 "axisX": {"labelAngle": -45, "labelPadding": 3, "labelFontSize": 13},
 "title": {"font": "Liberation Serif", "fontSize": 14, "fontWeight": "bold", "color": "black", "anchor": "middle"},
 "text": {"font": "Liberation Serif", "color": "black"}
}
}
